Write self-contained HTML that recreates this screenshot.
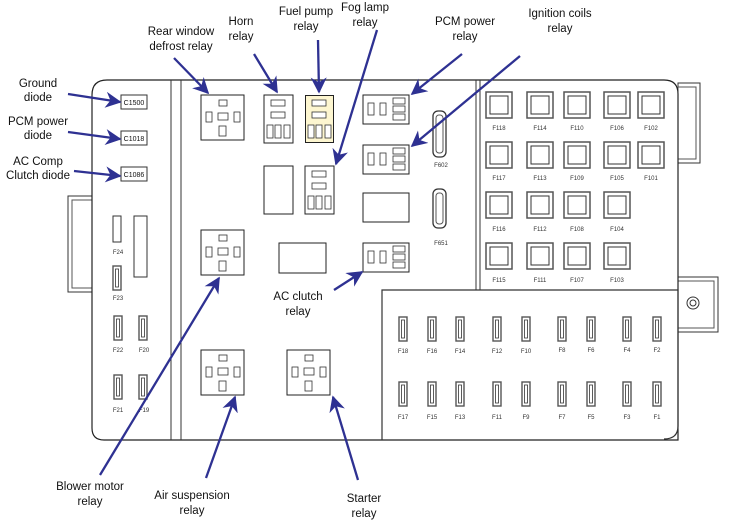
<!DOCTYPE html>
<html><head><meta charset="utf-8"><style>
html,body{margin:0;padding:0;background:#fff}
svg{display:block}
.l{font-family:"Liberation Sans",sans-serif;font-size:11.5px;fill:#111;text-anchor:middle}
.s{font-family:"Liberation Sans",sans-serif;font-size:6px;fill:#333;text-anchor:middle}
.c{font-family:"Liberation Sans",sans-serif;font-size:7px;fill:#111;text-anchor:middle}
.b{fill:#fff;stroke:#222;stroke-width:1}
.p{fill:#fff;stroke:#333;stroke-width:0.8}
.a{stroke:#2e3192;stroke-width:2.3;fill:none}
</style></head><body>
<svg width="750" height="520" viewBox="0 0 750 520" xmlns="http://www.w3.org/2000/svg">
<defs>
<marker id="m" viewBox="0 0 10 10" refX="9" refY="5" markerWidth="7" markerHeight="7" orient="auto"><path d="M0,0 L10,5 L0,10 L3,5 z" fill="#2e3192"/></marker>
<g id="cross">
<rect class="b" x="0" y="0" width="43" height="45"/>
<rect class="p" x="18" y="5" width="8" height="6"/>
<rect class="p" x="5" y="17" width="6" height="10"/>
<rect class="p" x="17" y="18" width="10" height="7"/>
<rect class="p" x="33" y="17" width="6" height="10"/>
<rect class="p" x="18" y="31" width="7" height="10"/>
</g>
<g id="tall">
<rect class="b" x="0" y="0" width="29" height="48"/>
<rect class="p" x="7" y="5" width="14" height="6"/>
<rect class="p" x="7" y="17" width="14" height="6"/>
<rect class="p" x="3" y="30" width="6" height="13"/>
<rect class="p" x="11" y="30" width="6" height="13"/>
<rect class="p" x="20" y="30" width="6" height="13"/>
</g>
<g id="wide">
<rect class="b" x="0" y="0" width="46" height="29"/>
<rect class="p" x="5" y="8" width="6" height="12"/>
<rect class="p" x="17" y="8" width="6" height="12"/>
<rect class="p" x="30" y="3" width="12" height="6"/>
<rect class="p" x="30" y="11" width="12" height="6"/>
<rect class="p" x="30" y="19" width="12" height="6"/>
</g>
<g id="sq"><rect x="0" y="0" width="26" height="26" fill="#fff" stroke="#555" stroke-width="1.5"/><rect x="4" y="4" width="18" height="18" fill="#fff" stroke="#333" stroke-width="1"/></g>
<g id="bf"><rect x="0" y="0" width="8" height="24" fill="#fff" stroke="#555" stroke-width="1.4"/><rect x="2.5" y="3" width="3" height="18" fill="#fff" stroke="#333" stroke-width="0.8"/></g>
</defs>

<rect x="68" y="196" width="24" height="96" fill="#fff" stroke="#333"/>
<rect x="72" y="200" width="20" height="88" fill="none" stroke="#555"/>
<rect x="678" y="83" width="22" height="80" fill="#fff" stroke="#333"/>
<rect x="678" y="87" width="18" height="72" fill="none" stroke="#555"/>
<rect x="678" y="277" width="40" height="55" fill="#fff" stroke="#333"/>
<rect x="678" y="281" width="36" height="47" fill="none" stroke="#555"/>
<circle cx="693" cy="303" r="6" fill="#fff" stroke="#333"/><circle cx="693" cy="303" r="3" fill="none" stroke="#333"/>

<path d="M92,95 Q92,80 107,80 L664,80 Q678,80 678,94 L678,440 L104,440 Q92,440 92,428 Z" fill="#fff" stroke="#222" stroke-width="1.2"/>
<line x1="171" y1="80" x2="171" y2="440" stroke="#333"/>
<line x1="181" y1="80" x2="181" y2="440" stroke="#333"/>
<line x1="476" y1="80" x2="476" y2="290" stroke="#333"/>
<line x1="480" y1="80" x2="480" y2="290" stroke="#333"/>
<path d="M382,440 L382,290 L678,290 L678,426 Q678,439 664,439" fill="none" stroke="#333" stroke-width="1.2"/>

<rect x="121" y="95" width="26" height="14" fill="#fff" stroke="#333"/><text class="c" x="134" y="105">C1500</text>
<rect x="121" y="131" width="26" height="14" fill="#fff" stroke="#333"/><text class="c" x="134" y="141">C1018</text>
<rect x="121" y="167" width="26" height="14" fill="#fff" stroke="#333"/><text class="c" x="134" y="177">C1086</text>

<rect x="113" y="216" width="8" height="26" fill="#fff" stroke="#333"/><text class="s" x="118" y="254">F24</text>
<rect x="134" y="216" width="13" height="61" fill="#fff" stroke="#333"/>
<use href="#bf" x="113" y="266"/><text class="s" x="118" y="300">F23</text>
<use href="#bf" x="114" y="316"/><text class="s" x="118" y="352">F22</text>
<use href="#bf" x="139" y="316"/><text class="s" x="144" y="352">F20</text>
<use href="#bf" x="114" y="375"/><text class="s" x="118" y="412">F21</text>
<use href="#bf" x="139" y="375"/><text class="s" x="144" y="412">F19</text>

<use href="#cross" x="201" y="95"/>
<use href="#tall" x="264" y="95"/>
<rect x="305.5" y="95.5" width="28" height="47" fill="#fdf6d0" stroke="#222"/>
<rect class="p" x="312" y="100" width="14" height="6"/><rect class="p" x="312" y="112" width="14" height="6"/>
<rect class="p" x="308" y="125" width="6" height="13"/><rect class="p" x="316" y="125" width="6" height="13"/><rect class="p" x="325" y="125" width="6" height="13"/>
<use href="#tall" x="305" y="166"/>
<rect class="b" x="264" y="166" width="29" height="48"/>
<use href="#wide" x="363" y="95"/>
<use href="#wide" x="363" y="145"/>
<rect class="b" x="363" y="193" width="46" height="29"/>
<use href="#wide" x="363" y="243"/>
<rect x="433" y="111" width="13" height="46" rx="5" fill="#fff" stroke="#333" stroke-width="1.3"/><rect x="436" y="115" width="7" height="38" rx="3" fill="none" stroke="#555"/>
<text class="s" x="441" y="167">F602</text>
<rect x="433" y="189" width="13" height="39" rx="5" fill="#fff" stroke="#333" stroke-width="1.3"/><rect x="436" y="193" width="7" height="31" rx="3" fill="none" stroke="#555"/>
<text class="s" x="441" y="245">F651</text>
<rect class="b" x="279" y="243" width="47" height="30"/>
<use href="#cross" x="201" y="230"/>
<use href="#cross" x="201" y="350"/>
<use href="#cross" x="287" y="350"/>

<use href="#sq" x="486" y="92"/><text class="s" x="499" y="130">F118</text>
<use href="#sq" x="527" y="92"/><text class="s" x="540" y="130">F114</text>
<use href="#sq" x="564" y="92"/><text class="s" x="577" y="130">F110</text>
<use href="#sq" x="604" y="92"/><text class="s" x="617" y="130">F106</text>
<use href="#sq" x="638" y="92"/><text class="s" x="651" y="130">F102</text>
<use href="#sq" x="486" y="142"/><text class="s" x="499" y="180">F117</text>
<use href="#sq" x="527" y="142"/><text class="s" x="540" y="180">F113</text>
<use href="#sq" x="564" y="142"/><text class="s" x="577" y="180">F109</text>
<use href="#sq" x="604" y="142"/><text class="s" x="617" y="180">F105</text>
<use href="#sq" x="638" y="142"/><text class="s" x="651" y="180">F101</text>
<use href="#sq" x="486" y="192"/><text class="s" x="499" y="231">F116</text>
<use href="#sq" x="527" y="192"/><text class="s" x="540" y="231">F112</text>
<use href="#sq" x="564" y="192"/><text class="s" x="577" y="231">F108</text>
<use href="#sq" x="604" y="192"/><text class="s" x="617" y="231">F104</text>
<use href="#sq" x="486" y="243"/><text class="s" x="499" y="282">F115</text>
<use href="#sq" x="527" y="243"/><text class="s" x="540" y="282">F111</text>
<use href="#sq" x="564" y="243"/><text class="s" x="577" y="282">F107</text>
<use href="#sq" x="604" y="243"/><text class="s" x="617" y="282">F103</text>

<use href="#bf" x="399" y="317"/><text class="s" x="403" y="353">F18</text>
<use href="#bf" x="428" y="317"/><text class="s" x="432" y="353">F16</text>
<use href="#bf" x="456" y="317"/><text class="s" x="460" y="353">F14</text>
<use href="#bf" x="493" y="317"/><text class="s" x="497" y="353">F12</text>
<use href="#bf" x="522" y="317"/><text class="s" x="526" y="353">F10</text>
<use href="#bf" x="558" y="317"/><text class="s" x="562" y="352">F8</text>
<use href="#bf" x="587" y="317"/><text class="s" x="591" y="352">F6</text>
<use href="#bf" x="623" y="317"/><text class="s" x="627" y="352">F4</text>
<use href="#bf" x="653" y="317"/><text class="s" x="657" y="352">F2</text>
<use href="#bf" x="399" y="382"/><text class="s" x="403" y="419">F17</text>
<use href="#bf" x="428" y="382"/><text class="s" x="432" y="419">F15</text>
<use href="#bf" x="456" y="382"/><text class="s" x="460" y="419">F13</text>
<use href="#bf" x="493" y="382"/><text class="s" x="497" y="419">F11</text>
<use href="#bf" x="522" y="382"/><text class="s" x="526" y="419">F9</text>
<use href="#bf" x="558" y="382"/><text class="s" x="562" y="419">F7</text>
<use href="#bf" x="587" y="382"/><text class="s" x="591" y="419">F5</text>
<use href="#bf" x="623" y="382"/><text class="s" x="627" y="419">F3</text>
<use href="#bf" x="653" y="382"/><text class="s" x="657" y="419">F1</text>

<text class="l" x="38" y="87">Ground</text><text class="l" x="38" y="101">diode</text>
<text class="l" x="38" y="125">PCM power</text><text class="l" x="38" y="139">diode</text>
<text class="l" x="38" y="165">AC Comp</text><text class="l" x="38" y="179">Clutch diode</text>
<text class="l" x="181" y="35">Rear window</text><text class="l" x="181" y="50">defrost relay</text>
<text class="l" x="241" y="25">Horn</text><text class="l" x="241" y="40">relay</text>
<text class="l" x="306" y="15">Fuel pump</text><text class="l" x="306" y="30">relay</text>
<text class="l" x="365" y="11">Fog lamp</text><text class="l" x="365" y="26">relay</text>
<text class="l" x="465" y="25">PCM power</text><text class="l" x="465" y="40">relay</text>
<text class="l" x="560" y="17">Ignition coils</text><text class="l" x="560" y="32">relay</text>
<text class="l" x="298" y="300">AC clutch</text><text class="l" x="298" y="315">relay</text>
<text class="l" x="90" y="490">Blower motor</text><text class="l" x="90" y="505">relay</text>
<text class="l" x="192" y="499">Air suspension</text><text class="l" x="192" y="514">relay</text>
<text class="l" x="364" y="502">Starter</text><text class="l" x="364" y="517">relay</text>

<g class="a" marker-end="url(#m)">
<line x1="68" y1="94" x2="120" y2="102"/>
<line x1="68" y1="132" x2="120" y2="139"/>
<line x1="74" y1="171" x2="120" y2="176"/>
<line x1="174" y1="58" x2="208" y2="93"/>
<line x1="254" y1="54" x2="277" y2="92"/>
<line x1="318" y1="40" x2="319" y2="92"/>
<line x1="377" y1="30" x2="336" y2="164"/>
<line x1="462" y1="54" x2="412" y2="94"/>
<line x1="520" y1="56" x2="412" y2="146"/>
<line x1="334" y1="290" x2="362" y2="272"/>
<line x1="100" y1="475" x2="219" y2="278"/>
<line x1="206" y1="478" x2="235" y2="397"/>
<line x1="358" y1="480" x2="333" y2="397"/>
</g>
</svg>
</body></html>
